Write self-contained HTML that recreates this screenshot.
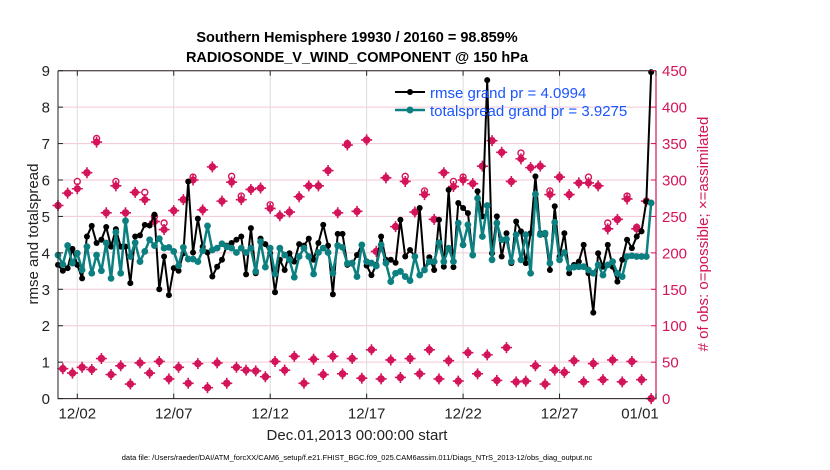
<!DOCTYPE html>
<html><head><meta charset="utf-8"><style>
body{margin:0;background:#fff;}
svg{display:block;font-family:"Liberation Sans",Arial,sans-serif;}
</style></head><body>
<svg id="chart" width="830" height="470" viewBox="0 0 830 470">
<rect width="830" height="470" fill="#fff"/>
<g id="grid"></g><g id="marks"></g><g id="axes"></g>
<text x="357" y="42" text-anchor="middle" font-size="14.5" font-weight="bold">Southern Hemisphere 19930 / 20160 = 98.859%</text>
<text x="357" y="62" text-anchor="middle" font-size="14.5" font-weight="bold">RADIOSONDE_V_WIND_COMPONENT @ 150 hPa</text>
<text transform="translate(38,234) rotate(-90)" text-anchor="middle" font-size="15" fill="#222">rmse and totalspread</text>
<text transform="translate(708,234) rotate(-90)" text-anchor="middle" font-size="15" fill="#d4145a"># of obs: o=possible; ×=assimilated</text>
<text x="357" y="440" text-anchor="middle" font-size="15" fill="#222">Dec.01,2013 00:00:00 start</text>
<text x="357" y="460" text-anchor="middle" font-size="7.5" fill="#000">data file: /Users/raeder/DAI/ATM_forcXX/CAM6_setup/f.e21.FHIST_BGC.f09_025.CAM6assim.011/Diags_NTrS_2013-12/obs_diag_output.nc</text>
<g>
<line x1="395" y1="92" x2="425" y2="92" stroke="#000" stroke-width="2"/><circle cx="410" cy="92" r="3" fill="#000"/>
<text x="430" y="98" font-size="15" fill="#1a55ff">rmse grand pr = 4.0994</text>
<line x1="395" y1="110" x2="425" y2="110" stroke="#0c8080" stroke-width="2.5"/><circle cx="410" cy="110" r="3.5" fill="#0c8080"/>
<text x="430" y="116" font-size="15" fill="#1a55ff">totalspread grand pr = 3.9275</text>
</g>
</svg>
<script>
const xTickLabels=["12/02","12/07","12/12","12/17","12/22","12/27","01/01"];
const xTickDays=[1,6,11,16,21,26,31];
const yTicks=[0,1,2,3,4,5,6,7,8,9];
const rTicks=[0,50,100,150,200,250,300,350,400,450];
const rmse=[3.67,3.51,3.58,4.11,3.67,3.30,4.45,4.74,4.27,4.36,4.71,4.17,4.65,4.17,4.17,3.17,4.45,4.48,4.77,4.75,5.05,3.0,3.9,2.84,3.58,3.51,3.99,5.96,4.01,4.94,4.17,4.01,3.35,3.62,3.81,4.2,4.27,4.36,4.45,3.41,4.68,3.44,4.39,4.24,3.99,2.92,3.81,3.53,3.99,3.76,4.24,4.2,4.39,3.81,4.27,4.77,4.2,2.86,4.52,4.52,3.67,
3.70,3.94,4.22,3.65,3.39,3.67,4.45,3.81,3.81,3.73,4.91,3.9,4.08,3.9,5.23,3.53,3.88,3.53,4.91,3.62,5.73,3.61,5.37,5.23,5.09,3.93,5.69,5.0,8.74,3.99,5.0,3.9,4.54,3.72,4.86,4.59,3.72,4.54,6.1,4.54,4.5,3.53,5.28,3.9,4.54,3.44,3.67,3.76,4.22,3.44,2.36,3.99,3.62,4.22,3.62,3.21,3.81,4.36,4.13,4.45,4.59,5.41,8.96];
const spread=[3.94,3.68,4.2,3.72,3.99,3.53,4.17,3.44,3.94,3.51,4.27,3.3,4.57,3.44,4.88,3.9,4.28,3.76,4.04,4.36,4.2,4.39,4.13,4.15,4.04,3.65,4.15,3.83,3.83,3.76,4.06,4.74,4.08,4.13,4.25,4.17,4.13,4.01,4.13,4.01,4.13,3.49,4.31,3.61,4.13,3.42,4.13,3.94,3.81,3.33,3.9,4.13,3.9,3.42,4.01,4.13,4.01,3.44,4.2,4.15,3.71,
3.72,3.35,4.22,3.76,3.72,3.64,4.22,3.72,3.21,3.44,3.49,3.35,3.24,3.9,3.39,3.53,3.76,3.76,4.28,3.76,4.13,3.76,4.82,4.22,4.77,3.94,5.5,4.45,5.3,3.81,4.82,4.36,4.38,3.76,4.5,3.81,4.5,3.44,5.61,4.5,4.54,3.72,4.84,3.81,4.01,3.58,3.61,3.62,3.62,3.53,3.44,3.67,3.39,3.67,3.76,3.44,3.35,3.9,3.92,3.9,3.9,3.9,5.37];
const obsAssimSyn=[265,282,288,310,352,255,292,255,283,273,243,232,258,273,300,259,318,271,297,273,287,289,261,251,256,277,292,292,313,255,348,257,355,202,303,236,298,256,280,246,310,291,300,295,319,354,338,298,329,317,319,280,304,280,296,296,292,233,246,274,233,271];
const obsPossSyn=[265,282,298,310,357,255,298,255,283,283,250,241,258,273,304,259,318,271,305,278,287,289,266,251,256,277,292,292,313,255,350,257,355,202,303,236,305,256,285,246,310,298,304,295,319,354,338,298,337,317,319,285,304,280,296,304,292,241,246,278,235,271];
const obsAssimOff=[41,35,43,40,55,33,45,20,49,35,51,27,43,21,48,15,49,21,43,39,38,30,51,39,58,21,54,33,58,34,55,28,67,27,53,29,55,34,67,27,52,24,63,34,60,25,70,23,24,45,20,39,36,52,23,48,26,53,23,51,26,0];
const obsPossOff=[41,35,43,40,55,33,45,20,49,35,51,27,43,21,48,15,49,21,43,39,38,30,51,39,58,21,54,33,58,34,55,28,67,27,53,29,55,34,67,27,52,24,63,34,60,25,70,23,24,45,20,39,36,52,23,48,26,53,23,51,26,0];

const L=58,R=656,T=70.7,B=398.6,NS="http://www.w3.org/2000/svg";
const xs=d=>L+(R-L)*d/31, yl=v=>B-(B-T)*v/9, yr=v=>B-(B-T)*v/450;
const tOf=i=>i*0.25;
function mk(p,tag,at){const e=document.createElementNS(NS,tag);for(const k in at)e.setAttribute(k,at[k]);p.appendChild(e);return e;}
const grid=document.getElementById('grid'),marks=document.getElementById('marks'),axes=document.getElementById('axes');
rTicks.forEach(v=>{const g=mk(grid,'line',{x1:L,x2:R,y1:yr(v),y2:yr(v),stroke:'#f3c6d6','stroke-width':1});

});
xTickDays.forEach(d=>{const g=mk(grid,'line',{x1:xs(d),x2:xs(d),y1:T,y2:B,stroke:'#dcdcdc','stroke-width':1});

});
function obsMarks(arrA,arrP,off,nm){
 arrP.forEach((v,k)=>{const c=mk(marks,'circle',{cx:xs(tOf(2*k+off)),cy:yr(v),r:3,fill:'#fff',stroke:'#d4145a','stroke-width':1.4});
 
 });
 arrA.forEach((v,k)=>{const x=xs(tOf(2*k+off)),y=yr(v);const g=mk(marks,'g',{});
 
 
 mk(g,'circle',{cx:x,cy:y,r:3.6,fill:'#d4145a'});
 mk(g,'path',{d:`M${x-5.5},${y}H${x+5.5}M${x},${y-5.5}V${y+5.5}`,stroke:'#d4145a','stroke-width':1.6});});
}
obsMarks(obsAssimSyn,obsPossSyn,0,'obs-synoptic');
obsMarks(obsAssimOff,obsPossOff,1,'obs-offhour');
function series(arr,col,w,r,nm){
 const pl=mk(marks,'polyline',{points:arr.map((v,i)=>xs(tOf(i))+','+yl(v)).join(' '),fill:'none',stroke:col,'stroke-width':w,'stroke-linejoin':'round'});
 
 
 arr.forEach((v,i)=>{const c=mk(marks,'circle',{cx:xs(tOf(i)),cy:yl(v),r:r,fill:col});
 
 });
}
series(rmse,'#000',2,3,'rmse');
series(spread,'#0c8080',2.5,3.4,'totalspread');
mk(axes,'path',{d:`M${L},${T}V${B}H${R}M${L},${T}H${R}`,stroke:'#222','stroke-width':1,fill:'none'});
mk(axes,'line',{x1:R,x2:R,y1:T,y2:B,stroke:'#d4145a','stroke-width':1.2});
yTicks.forEach(v=>{mk(axes,'line',{x1:L,x2:L+5,y1:yl(v),y2:yl(v),stroke:'#222'});
 const t=mk(axes,'text',{x:L-8,y:yl(v)+5.5,'text-anchor':'end','font-size':15,fill:'#222'});t.textContent=v;
 
 });
rTicks.forEach(v=>{mk(axes,'line',{x1:R-5,x2:R,y1:yr(v),y2:yr(v),stroke:'#d4145a'});
 const t=mk(axes,'text',{x:R+6,y:yr(v)+5.5,'font-size':15,fill:'#d4145a'});t.textContent=v;
 
 });
xTickDays.forEach((d,k)=>{mk(axes,'line',{x1:xs(d),x2:xs(d),y1:B,y2:B-5,stroke:'#222'});mk(axes,'line',{x1:xs(d),x2:xs(d),y1:T,y2:T+5,stroke:'#222'});
 const t=mk(axes,'text',{x:k==6?xs(d)-16:xs(d),y:B+20,'text-anchor':'middle','font-size':15,fill:'#222'});t.textContent=xTickLabels[k];
 
 });
</script>
</body></html>
